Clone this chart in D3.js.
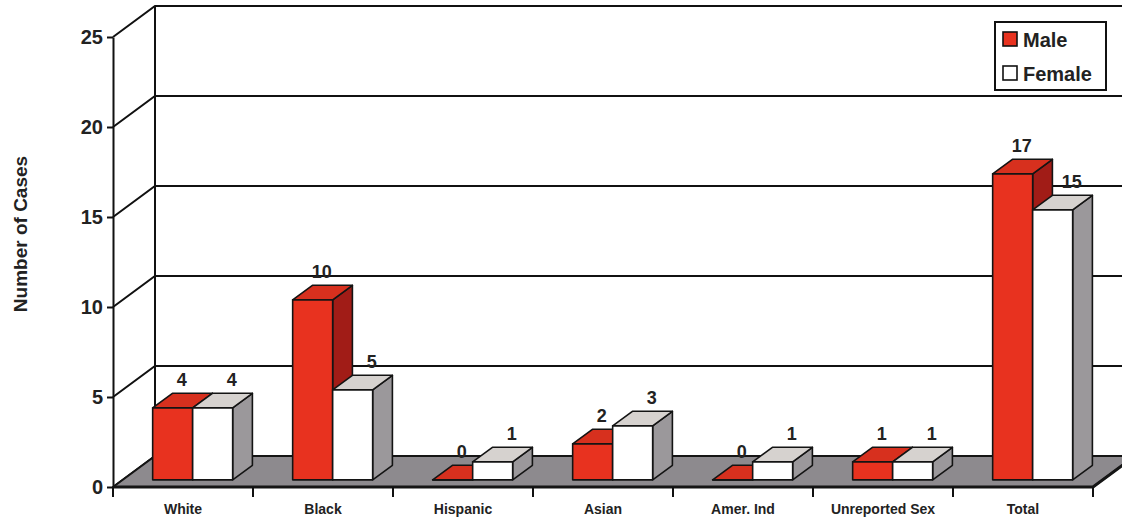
<!DOCTYPE html>
<html>
<head>
<meta charset="utf-8">
<script src="https://cdn.jsdelivr.net/npm/d3@7"></script>
<style>
  html, body { margin: 0; padding: 0; background: #ffffff; }
  svg { display: block; font-family: "Liberation Sans", Arial, Helvetica, sans-serif; font-weight: bold; }
</style>
</head>
<body>
<svg id="chart" width="1122" height="521"></svg>
<script>
// Cases by race/ethnicity and sex
const categories = ["White", "Black", "Hispanic", "Asian", "Amer. Ind", "Unreported Sex", "Total"];
const series = ["Male", "Female"];
const maleCases = [4, 10, 0, 2, 0, 1, 17];
const femaleCases = [4, 5, 1, 3, 1, 1, 15];
const yTicks = [0, 5, 10, 15, 20, 25];
const yTitle = "Number of Cases";

const values = { Male: maleCases, Female: femaleCases };

// Face colours per series: front, top, side
const faces = {
  Male:   { front: "#e8321f", top: "#d7301e", side: "#a11c17" },
  Female: { front: "#ffffff", top: "#d6d2cf", side: "#9b989b" }
};

const svg = d3.select("#chart");

// Front plane of the plot and the oblique depth vector
const plot = { left: 113, right: 1093, top: 37, bottom: 487 };
const DX = 42, DY = -31;
const Z0 = 0.23, Z1 = 0.70;   // bar front / back depth fractions

const x = d3.scaleBand().domain(categories).range([plot.left, plot.right]).paddingInner(0).paddingOuter(0);
const xs = d3.scaleBand().domain(series).range([0, x.bandwidth()]).paddingInner(0).paddingOuter(0.75);
const y = d3.scaleLinear().domain([0, 25]).range([plot.bottom, plot.top]);

const P = (px, py, z) => [px + z * DX, py + z * DY];
const poly = pts => pts.map(p => p.join(",")).join(" ");

// Back wall gridlines and left side wall
const wall = svg.append("g").attr("stroke", "#111").attr("stroke-width", 2).attr("fill", "none");
yTicks.forEach(v => {
  const a = P(plot.left, y(v), 0), b = P(plot.left, y(v), 1), c = P(plot.right + 60, y(v), 1);
  wall.append("polyline").attr("points", poly([a, b, c]));
});
const wb = P(plot.left, y(0), 1), wt = P(plot.left, y(25), 1);
wall.append("line").attr("x1", wb[0]).attr("y1", wb[1]).attr("x2", wt[0]).attr("y2", wt[1]);

// Floor
const floorPts = [P(plot.left, y(0), 0), P(plot.right, y(0), 0), P(plot.right, y(0), 1), P(plot.left, y(0), 1)];
svg.append("polygon").attr("points", poly(floorPts))
  .attr("fill", "#8d8a8e").attr("stroke", "#151515").attr("stroke-width", 2).attr("stroke-linejoin", "round");
svg.append("polyline")
  .attr("points", poly([P(plot.left, y(0), 0), P(plot.right, y(0), 0), P(plot.right, y(0), 1)]))
  .attr("fill", "none").attr("stroke", "#151515").attr("stroke-width", 3);

// Y axis on the front-left edge
const yAxis = d3.axisLeft(y).tickValues(yTicks).tickSize(6).tickPadding(4).tickSizeOuter(0);
const yg = svg.append("g").attr("transform", `translate(${plot.left},0)`).call(yAxis);
yg.select(".domain").attr("stroke", "#111").attr("stroke-width", 2);
yg.selectAll(".tick line").attr("stroke", "#111").attr("stroke-width", 2);
yg.selectAll(".tick text").attr("fill", "#222").style("font-size", "20px").style("font-weight", "bold")
  .style("font-family", "'Liberation Sans', Arial, sans-serif");

// Category axis: labels at band centres, ticks at band boundaries
const xAxis = d3.axisBottom(x).tickSize(0).tickPadding(17);
const xg = svg.append("g").attr("transform", `translate(0,${plot.bottom})`).call(xAxis);
xg.select(".domain").remove();
xg.selectAll(".tick text").attr("fill", "#222").style("font-size", "14px").style("font-weight", "bold")
  .style("font-family", "'Liberation Sans', Arial, sans-serif");
const bounds = categories.map(c => x(c)).concat([plot.right]);
svg.append("g").selectAll("line").data(bounds).join("line")
  .attr("x1", d => d).attr("x2", d => d)
  .attr("y1", plot.bottom).attr("y2", plot.bottom + 10)
  .attr("stroke", "#111").attr("stroke-width", 2);

// Y title
svg.append("text")
  .attr("transform", `translate(27,234) rotate(-90)`)
  .attr("text-anchor", "middle")
  .attr("fill", "#222").style("font-size", "19px")
  .text(yTitle);

// 3D bars
const bars = svg.append("g").attr("stroke", "#141414").attr("stroke-width", 1.6).attr("stroke-linejoin", "round");
const labels = [];
categories.forEach((c, i) => {
  series.forEach(s => {
    const v = values[s][i];
    const x0 = x(c) + xs(s), x1 = x0 + xs.bandwidth();
    const yb = y(0), yt = y(v);
    const f = faces[s];
    const front = [P(x0, yb, Z0), P(x1, yb, Z0), P(x1, yt, Z0), P(x0, yt, Z0)];
    const top = [P(x0, yt, Z0), P(x1, yt, Z0), P(x1, yt, Z1), P(x0, yt, Z1)];
    const side = [P(x1, yb, Z0), P(x1, yb, Z1), P(x1, yt, Z1), P(x1, yt, Z0)];
    bars.append("polygon").attr("points", poly(side)).attr("fill", f.side);
    bars.append("polygon").attr("points", poly(top)).attr("fill", f.top);
    bars.append("polygon").attr("points", poly(front)).attr("fill", f.front);
    const ft = P((x0 + x1) / 2, yt, Z0);
    labels.push({ v, x: ft[0] + (s === "Male" ? 9 : 19), y: ft[1] - 22 });
  });
});

// Value labels
svg.append("g").selectAll("text").data(labels).join("text")
  .attr("x", d => d.x).attr("y", d => d.y)
  .attr("text-anchor", "middle").attr("fill", "#222").style("font-size", "18px")
  .text(d => d.v);

// Legend
const lg = svg.append("g").attr("transform", "translate(995,22)");
lg.append("rect").attr("width", 111).attr("height", 68).attr("fill", "#fff").attr("stroke", "#111").attr("stroke-width", 2);
series.forEach((s, i) => {
  const row = lg.append("g").attr("transform", `translate(8,${10 + i * 34})`);
  row.append("rect").attr("width", 14).attr("height", 14).attr("fill", faces[s].front)
    .attr("stroke", "#111").attr("stroke-width", 1.6);
  row.append("text").attr("x", 20).attr("y", 15).attr("fill", "#222").style("font-size", "20px").text(s);
});
</script>
</body>
</html>
